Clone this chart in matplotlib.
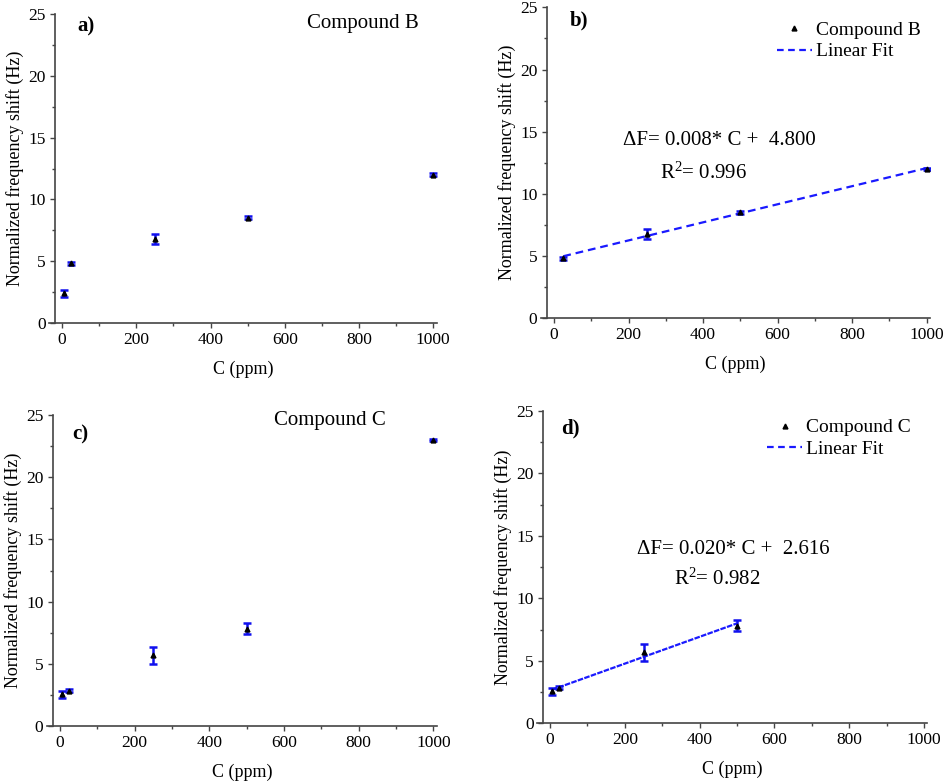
import numpy as np
import matplotlib
matplotlib.use("Agg")
import matplotlib.pyplot as plt
from matplotlib.lines import Line2D
from matplotlib.ticker import MultipleLocator

plt.rcParams['font.family'] = ['Liberation Serif', 'DejaVu Serif']
plt.rcParams['mathtext.fontset'] = 'custom'
plt.rcParams['mathtext.rm'] = 'Liberation Serif'
plt.rcParams['mathtext.it'] = 'Liberation Serif:italic'
plt.rcParams['mathtext.default'] = 'rm'

# ---------------- data ----------------
conc = [5, 25, 250, 500, 1000]
shift_B = [2.38, 4.81, 6.81, 8.51, 12.00]
err_B = [0.30, 0.10, 0.40, 0.12, 0.10]
shift_C = [2.55, 2.84, 5.68, 7.82, 22.99]
err_C = [0.30, 0.12, 0.70, 0.43, 0.10]

fit_idx_B = [1, 2, 3, 4]   # points used for fit in panel b
fit_idx_C = [0, 1, 2, 3]   # points used for fit in panel d

eq_B = "\u0394F= 0.008* C +  4.800"
r2_B = "R$^{2}$= 0.996"
eq_C = "\u0394F= 0.020* C +  2.616"
r2_C = "R$^{2}$= 0.982"

x_ticks = [0, 200, 400, 600, 800, 1000]
y_ticks = [0, 5, 10, 15, 20, 25]

W, H = 944, 782
fig = plt.figure(figsize=(W / 100, H / 100), dpi=100)


def make_ax(left, right, top, bottom):
    return fig.add_axes([left / W, (H - bottom) / H, (right - left) / W, (bottom - top) / H])


axes = {
    'a': make_ax(49.4, 436.6, 14.3, 322.7),
    'b': make_ax(541.3, 930.1, 7.3, 318.3),
    'c': make_ax(47.3, 436.7, 415, 726),
    'd': make_ax(537.3, 927.4, 411, 723.3),
}

spine_col = '#444444'
for key, ax in axes.items():
    ax.set_xlim(-34, 1009)
    ax.set_ylim(0, 25)
    ax.spines['top'].set_visible(False)
    ax.spines['right'].set_visible(False)
    ax.spines['left'].set_position(('data', -20))
    for s in ('left', 'bottom'):
        ax.spines[s].set_color(spine_col)
        ax.spines[s].set_linewidth(1.2)
    ax.set_xticks(x_ticks)
    ax.set_yticks(y_ticks)
    ax.xaxis.set_minor_locator(MultipleLocator(100))
    ax.yaxis.set_minor_locator(MultipleLocator(2.5))
    ax.tick_params(which='major', direction='out', length=3.5, width=1.0, color=spine_col,
                   labelsize=12.5, pad=3)
    ax.tick_params(which='minor', direction='out', length=2.2, width=1.0, color=spine_col)
    ax.set_xlabel("C (ppm)", fontsize=13, labelpad=9)
    ax.set_ylabel("Normalized frequency shift (Hz)", fontsize=13, labelpad=3)


def draw_points(ax, xs, ys, es):
    ax.errorbar(xs, ys, yerr=es, fmt='none', ecolor='#1010ee', elinewidth=1.8,
                capsize=3.0, capthick=1.8, zorder=3)
    ax.plot(xs, ys, linestyle='none', marker='^', markersize=3.5, color='black', zorder=4)


# panel a
ax = axes['a']
draw_points(ax, conc, shift_B, err_B)
ax.text(0.071, 0.959, "a)", transform=ax.transAxes, fontsize=15, fontweight='bold', va='center')
ax.text(0.665, 0.969, "Compound B", transform=ax.transAxes, fontsize=15, va='center')

# panel c
ax = axes['c']
draw_points(ax, conc, shift_C, err_C)
ax.text(0.063, 0.936, "c)", transform=ax.transAxes, fontsize=15, fontweight='bold', va='center')
ax.text(0.582, 0.981, "Compound C", transform=ax.transAxes, fontsize=15, va='center')


def fit_panel(ax, idx, ys_all, es_all, eq, r2, label, dash, eq_xy, r2_xy, letter, letter_xy,
              leg_anchor):
    xs = np.array([conc[i] for i in idx], dtype=float)
    ys = np.array([ys_all[i] for i in idx], dtype=float)
    es = [es_all[i] for i in idx]
    k, b0 = np.polyfit(xs, ys, 1)
    xf = np.array([xs.min(), xs.max()])
    ax.plot(xf, k * xf + b0, color='#1a1aff', lw=1.6, linestyle=(0, dash), zorder=2)
    draw_points(ax, xs, ys, es)
    ax.text(eq_xy[0], eq_xy[1], eq, transform=ax.transAxes, fontsize=15, ha='left', va='center')
    ax.text(r2_xy[0], r2_xy[1], r2, transform=ax.transAxes, fontsize=15, ha='left', va='center')
    ax.text(letter_xy[0], letter_xy[1], letter, transform=ax.transAxes, fontsize=15,
            fontweight='bold', va='center')
    handles = [Line2D([], [], linestyle='none', marker='^', markersize=3.5, color='black'),
               Line2D([], [], color='#1a1aff', lw=1.6, linestyle=(0, (3, 2)))]
    ax.legend(handles, [label, "Linear Fit"], loc='upper right', bbox_to_anchor=leg_anchor,
              frameon=False, fontsize=14, handlelength=1.8, handletextpad=0.2,
              labelspacing=0.2, borderaxespad=0.0)


fit_panel(axes['b'], fit_idx_B, shift_B, err_B, eq_B, r2_B, "Compound B", (3.5, 2.2),
          (0.21, 0.572), (0.305, 0.468), "b)", (0.074, 0.959), (0.995, 0.98))
fit_panel(axes['d'], fit_idx_C, shift_C, err_C, eq_C, r2_C, "Compound C", (2.5, 0.6),
          (0.255, 0.557), (0.35, 0.46), "d)", (0.061, 0.9455), (0.977, 1.0))

fig.savefig("out.png", dpi=100)
